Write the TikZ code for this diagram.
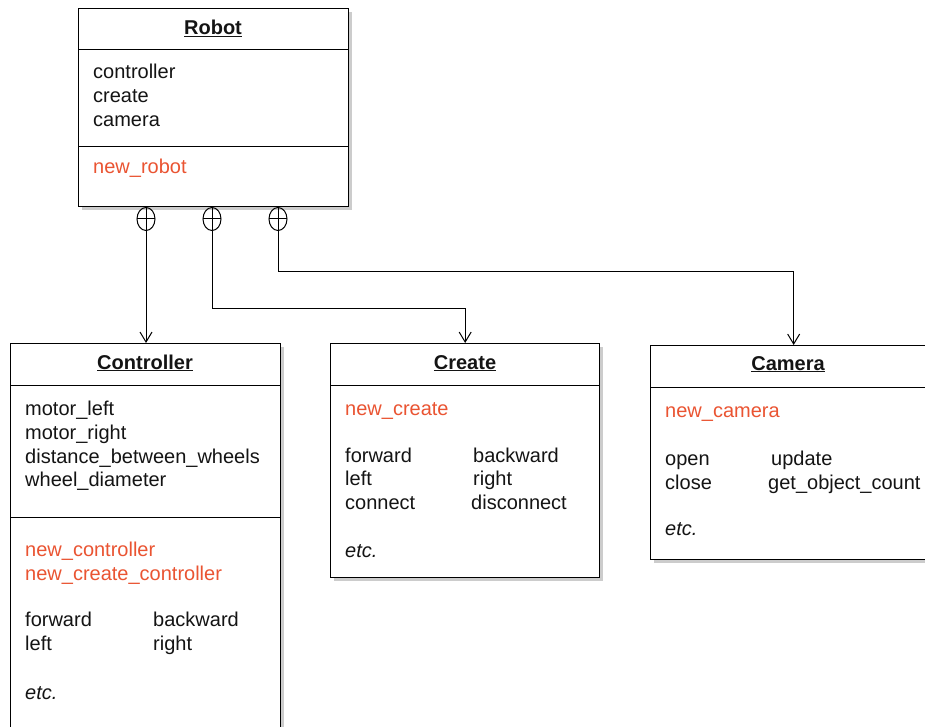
\documentclass[tikz,border=0pt]{standalone}
\usepackage{fontspec}
\setmainfont{Liberation Sans}
\usepackage{xcolor}
\usepackage{tikz}
\usetikzlibrary{shapes.geometric}
\usetikzlibrary{arrows.meta,shadows}

\definecolor{methrot}{RGB}{234,84,50}
\definecolor{schrift}{RGB}{20,20,20}

\tikzset{
  klasse/.style={draw, line width=1.3pt, fill=white, rectangle, anchor=north west, inner sep=0pt,
    drop shadow={shadow xshift=3pt, shadow yshift=-3pt, opacity=0.4}},
  eintrag/.style={anchor=base west, inner sep=0pt, text=schrift, font=\fontsize{20}{23}\selectfont},
  methode/.style={eintrag, text=methrot},
  titel/.style={anchor=base, inner sep=0pt, text=schrift, font=\fontsize{20}{23}\selectfont\bfseries},
  teil/.style={draw, line width=1pt, ellipse, minimum width=18pt, minimum height=23pt, inner sep=0pt,
    path picture={\draw[line width=1pt] (path picture bounding box.north) -- (path picture bounding box.south)
      (path picture bounding box.west) -- (path picture bounding box.east);}},
  pfeil/.style={draw, line width=1pt, -{Straight Barb[length=10pt,width=12pt]}}
}

\begin{document}
\begin{tikzpicture}[x=1pt,y=-1pt]

\clip (0,0) rectangle (925,727);											% Bildrahmen

\node[klasse, minimum width=270pt, minimum height=198pt] (robot) at (78,8) {};		% Robot Kasten
\draw[line width=1pt] (78,50) -- (348,50);										% Robot Titel trennen
\draw[line width=1pt] (78,147) -- (348,147);										% Robot Methoden trennen
\node[titel] (robottitel) at (213,35) {\underline{Robot}};
\node[eintrag] (robotA) at (93,79) {controller};
\node[eintrag] (robotB) at (93,103) {create};
\node[eintrag] (robotC) at (93,127) {camera};
\node[methode] (robotM) at (93,174) {new\_robot};

\node[klasse, minimum width=270pt, minimum height=420pt] (controller) at (10,343) {};	% Controller Kasten
\draw[line width=1pt] (10,385) -- (280,385);										% Controller Titel trennen
\draw[line width=1pt] (10,517) -- (280,517);										% Controller Methoden trennen
\node[titel] (controllertitel) at (145,369) {\underline{Controller}};
\node[eintrag] (controllerA) at (25,415) {motor\_left};
\node[eintrag] (controllerB) at (25,439) {motor\_right};
\node[eintrag] (controllerC) at (25,463) {distance\_between\_wheels};
\node[eintrag] (controllerD) at (25,486) {wheel\_diameter};
\node[methode] (controllerM) at (25,556) {new\_controller};
\node[methode] (controllerN) at (25,580) {new\_create\_controller};
\node[eintrag] (controllerF) at (25,626) {forward};
\node[eintrag] (controllerG) at (153,626) {backward};
\node[eintrag] (controllerH) at (25,650) {left};
\node[eintrag] (controllerI) at (153,650) {right};
\node[eintrag, font=\fontsize{20}{23}\selectfont\itshape] (controllerE) at (25,699) {etc.};

\node[klasse, minimum width=269pt, minimum height=234pt] (create) at (330,343) {};		% Create Kasten
\draw[line width=1pt] (330,385) -- (599,385);										% Create Titel trennen
\node[titel] (createtitel) at (465,369) {\underline{Create}};
\node[methode] (createM) at (345,415) {new\_create};
\node[eintrag] (createF) at (345,462) {forward};
\node[eintrag] (createG) at (473,462) {backward};
\node[eintrag] (createH) at (345,485) {left};
\node[eintrag] (createI) at (473,485) {right};
\node[eintrag] (createJ) at (345,509) {connect};
\node[eintrag] (createK) at (471,509) {disconnect};
\node[eintrag, font=\fontsize{20}{23}\selectfont\itshape] (createE) at (345,557) {etc.};

\node[klasse, minimum width=286pt, minimum height=214pt] (camera) at (650,345) {};		% Camera Kasten
\draw[line width=1pt] (650,387) -- (936,387);										% Camera Titel trennen
\node[titel] (cameratitel) at (788,370) {\underline{Camera}};
\node[methode] (cameraM) at (665,417) {new\_camera};
\node[eintrag] (cameraF) at (665,465) {open};
\node[eintrag] (cameraG) at (771,465) {update};
\node[eintrag] (cameraH) at (665,489) {close};
\node[eintrag] (cameraI) at (768,489) {get\_object\_count};
\node[eintrag, font=\fontsize{20}{23}\selectfont\itshape] (cameraE) at (665,535) {etc.};

\node[teil] (teilA) at (146,219) {};												% Enthaelt controller
\node[teil] (teilB) at (212,219) {};												% Enthaelt create
\node[teil] (teilC) at (278,219) {};												% Enthaelt camera

\coordinate (knickB) at (212,308);
\coordinate (knickC) at (278,271);

\draw[pfeil] (teilA.south) -- (teilA.south |- controller.north);					% zu Controller
\draw[pfeil] (teilB.south) -- (knickB) -| (create.north);							% zu Create
\draw[pfeil] (teilC.south) -- (knickC) -| (camera.north);							% zu Camera

\end{tikzpicture}
\end{document}
